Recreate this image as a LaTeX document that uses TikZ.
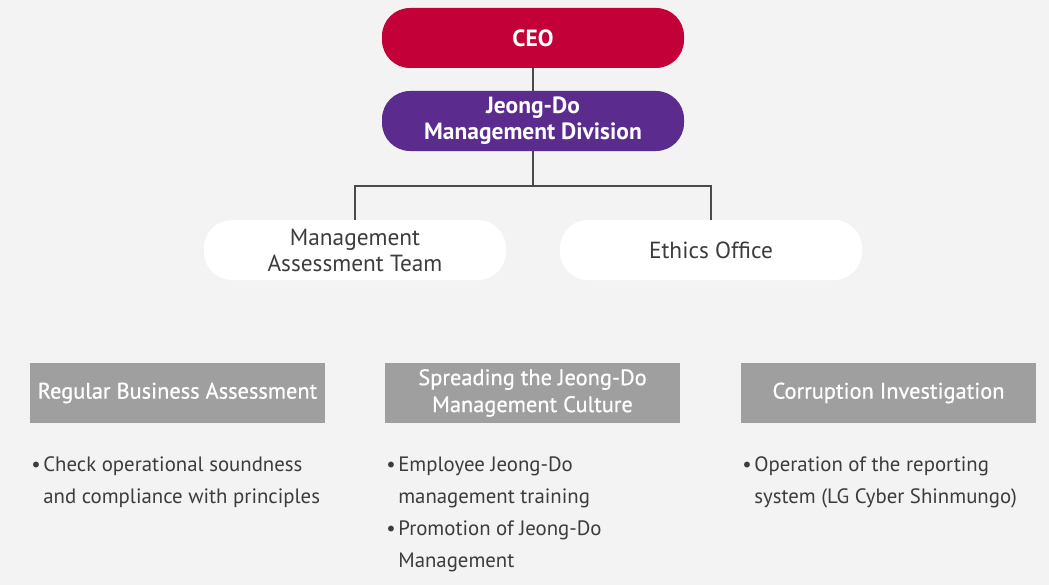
\documentclass[tikz,border=0pt]{standalone}
\usepackage{fontspec}
\setmainfont{PT Sans}
\newfontfamily\medfont[FakeBold=0.7]{PT Sans}
\usepackage{xcolor}
\definecolor{ceored}{HTML}{C30038}
\definecolor{jdpurple}{HTML}{5B2C8E}
\definecolor{boxgrey}{HTML}{9E9F9E}
\definecolor{bggrey}{HTML}{F2F3F2}
\definecolor{txtgrey}{HTML}{3C3C3C}
\definecolor{linegrey}{HTML}{4A4A4A}

\begin{document}
\begin{tikzpicture}[x=0.75pt,y=-0.75pt,
  pill/.style={rectangle,rounded corners=21pt,minimum width=226.5pt,minimum height=45pt,
    align=center,inner sep=0pt},
  topbox/.style={pill,text=white,font=\fontsize{17.6}{19.5}\selectfont\bfseries},
  unitbox/.style={pill,fill=white,text=txtgrey,font=\fontsize{17.5}{19.5}\selectfont},
  taskbox/.style={rectangle,fill=boxgrey,text=white,minimum width=221.25pt,minimum height=45pt,
    align=center,inner sep=0pt,font=\fontsize{16.8}{20.2}\medfont},
  bullets/.style={anchor=north west,inner sep=0pt,text=txtgrey,font=\fontsize{15.6}{24}\selectfont},
  conn/.style={linegrey,line width=0.9pt}]
%\draw[step=50,gray,very thin] (0,0) grid (1049,585); %background grid

\fill[bggrey] (0,0) rectangle (1049,585);
\useasboundingbox (0,0) rectangle (1049,585);

% top of the chart
\node[topbox,fill=ceored] (ceo) at (533,38) {CEO};
\node[topbox,fill=jdpurple] (jdm) at (533,121) {Jeong-Do\\Management Division};

\node[unitbox] (mat) at (355,250) {Management\\Assessment Team};
\node[unitbox] (eth) at (711,250) {Ethics Office};

\coordinate (fork) at (533,186);
\draw[conn] (ceo) -- (jdm);
\draw[conn] (jdm) -- (fork);
\draw[conn] (mat.north) |- (fork) -| (eth.north);

% tasks
\node[taskbox] (rba) at (177.5,393) {Regular Business Assessment};
\node[taskbox] (sjd) at (532.5,393) {Spreading the Jeong-Do\\Management Culture};
\node[taskbox] (coi) at (888.5,393) {Corruption Investigation};

\node[bullets] (rbalist) at (31,449) {%
  \begin{tabular}{@{}l@{\hspace{2pt}}l@{}}
  \textbullet & Check operational soundness\\
   & and compliance with principles
  \end{tabular}};
\node[bullets] (sjdlist) at (386,449) {%
  \begin{tabular}{@{}l@{\hspace{2pt}}l@{}}
  \textbullet & Employee Jeong-Do\\
   & management training\\
  \textbullet & Promotion of Jeong-Do\\
   & Management
  \end{tabular}};
\node[bullets] (coilist) at (742,449) {%
  \begin{tabular}{@{}l@{\hspace{2pt}}l@{}}
  \textbullet & Operation of the reporting\\
   & system (LG Cyber Shinmungo)
  \end{tabular}};

\end{tikzpicture}
\end{document}
